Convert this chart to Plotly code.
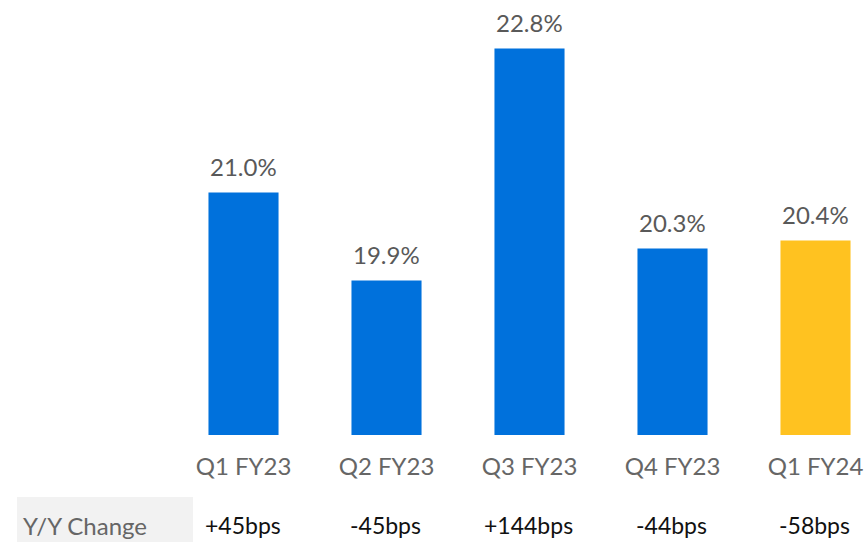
import plotly.graph_objects as go

categories = ["Q1 FY23", "Q2 FY23", "Q3 FY23", "Q4 FY23", "Q1 FY24"]
values = [21.0, 19.9, 22.8, 20.3, 20.4]
value_labels = ["21.0%", "19.9%", "22.8%", "20.3%", "20.4%"]
yy_change = ["+45bps", "-45bps", "+144bps", "-44bps", "-58bps"]
bar_colors = ["#0071DC", "#0071DC", "#0071DC", "#0071DC", "#FFC220"]

W, H = 864, 542
ML, MR, MT, MB = 172, 0, 0, 107
PW, PH = W - ML - MR, H - MT - MB
FONT = "Lato, Noto Sans, sans-serif"

def px_x(p):
    return (p - ML) / PW

def px_y(p):
    return (H - MB - p) / PH

fig = go.Figure()
fig.add_trace(go.Bar(
    x=categories, y=values, marker=dict(color=bar_colors, line=dict(width=0)),
    width=0.49, hoverinfo="skip", base=0,
))

annotations = []
for c, v, t in zip(categories, values, value_labels):
    annotations.append(dict(x=c, y=v, xref="x", yref="y", text=t, showarrow=False,
                            yanchor="bottom", yshift=10,
                            font=dict(family=FONT, size=24, color="#595959")))
for c, t in zip(categories, yy_change):
    annotations.append(dict(x=c, y=px_y(525), xref="x", yref="paper", text=t, showarrow=False,
                            yanchor="middle", xshift=-1,
                            font=dict(family=FONT, size=23, color="#111111")))
annotations.append(dict(x=px_x(21), y=px_y(525), xref="paper", yref="paper", text="Y/Y Change",
                        showarrow=False, xanchor="left", yanchor="middle",
                        font=dict(family=FONT, size=24, color="#666666")))

fig.update_layout(
    width=W, height=H,
    margin=dict(l=ML, r=MR, t=MT, b=MB, pad=0),
    paper_bgcolor="white", plot_bgcolor="white",
    showlegend=False,
    annotations=annotations,
    shapes=[dict(type="rect", xref="paper", yref="paper",
                 x0=px_x(17), x1=px_x(193), y0=px_y(545), y1=px_y(497),
                 fillcolor="#F2F2F2", line=dict(width=0), layer="below")],
    xaxis=dict(range=[-0.5, -0.5 + PW / 143.0], showgrid=False, zeroline=False, showline=False,
               ticks="", ticklabelstandoff=15,
               tickfont=dict(family=FONT, size=24, color="#666666")),
    yaxis=dict(range=[17.97, 17.97 + PH / 80.0], visible=False),
)

fig.write_html("out.html")
